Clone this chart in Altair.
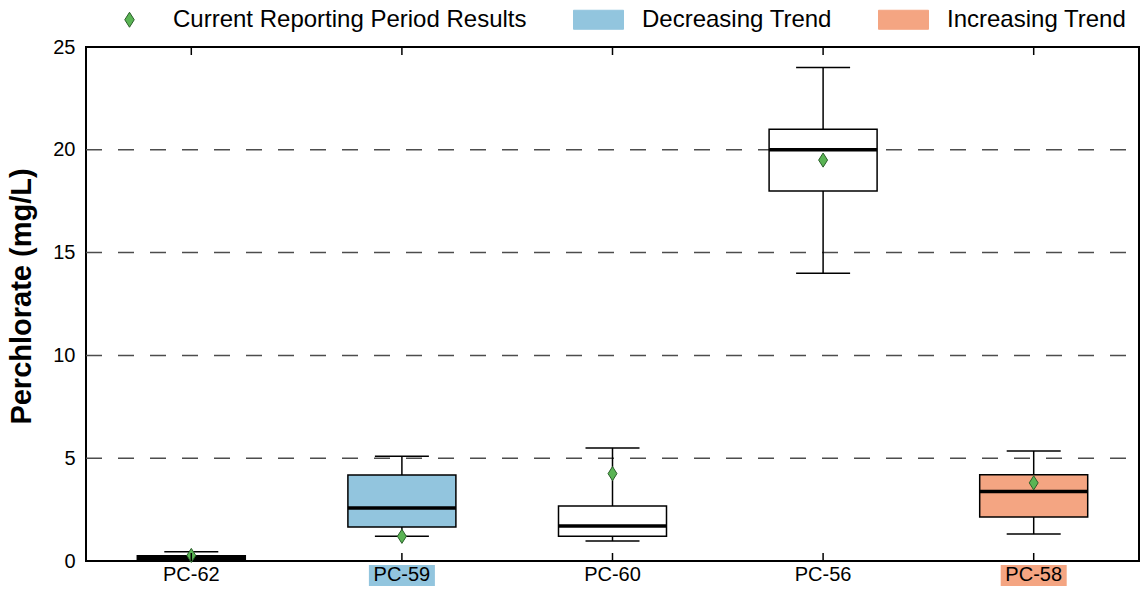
import altair as alt
import pandas as pd

categories = ["PC-62", "PC-59", "PC-60", "PC-56", "PC-58"]
low = [0.0, 1.2, 0.97, 14.0, 1.31]
q1 = [0.08, 1.65, 1.2, 18.0, 2.14]
median = [0.17, 2.58, 1.7, 20.0, 3.38]
q3 = [0.26, 4.18, 2.68, 21.0, 4.2]
high = [0.45, 5.1, 5.5, 24.0, 5.35]
current = [0.27, 1.2, 4.25, 19.5, 3.8]
trend = ["None", "Decreasing Trend", "None", "None", "Increasing Trend"]
grid_values = [5, 10, 15, 20]
y_ticks = [0, 5, 10, 15, 20, 25]
series = ["Current Reporting Period Results", "Decreasing Trend", "Increasing Trend"]

GREEN = "#5ab454"
DARKGREEN = "#2b5f2b"
BLUE = "#92c5de"
ORANGE = "#f4a582"
FONT = "Liberation Sans"
W, H = 1053, 514

DIAMOND = "M0,-0.3L0.19,0L0,0.3L-0.19,0Z"
RECT = "M-1,-0.38L1,-0.38L1,0.38L-1,0.38Z"

df = pd.DataFrame({
    "cat": categories, "low": low, "q1": q1, "median": median,
    "q3": q3, "high": high, "current": current, "trend": trend,
    "series": [series[0]] * len(categories),
})
grid_df = pd.DataFrame({"v": grid_values})
trend_df = df[df["trend"] != "None"]

x_enc = alt.X("cat:N", sort=categories,
              scale=alt.Scale(domain=categories, paddingInner=0, paddingOuter=0),
              axis=None)
y_scale = alt.Scale(domain=[0, 25], nice=False, zero=True)
trend_scale = alt.Scale(domain=["None", "Decreasing Trend", "Increasing Trend"],
                        range=["white", BLUE, ORANGE])

grid = alt.Chart(grid_df).mark_rule(color="#4d4d4d", strokeWidth=1.5, strokeDash=[16, 16]).encode(
    y=alt.Y("v:Q", scale=y_scale,
            axis=alt.Axis(values=y_ticks, labelFontSize=20, labelFont=FONT, labelColor="black",
                          ticks=False, domain=False, grid=False,
                          title="Perchlorate (mg/L)", titleFontSize=29, titleFont=FONT,
                          titleFontWeight="bold", titleColor="black", titlePadding=16,
                          titleY=249, labelPadding=11)),
    x=alt.value(0), x2=alt.value(W),
)

base = alt.Chart(df).encode(x=x_enc)

whisker = base.mark_rule(color="black", strokeWidth=1.5).encode(
    y=alt.Y("low:Q", scale=y_scale), y2="high:Q")
caps_low = base.mark_tick(color="black", size=54, thickness=1.5, opacity=1).encode(
    y=alt.Y("low:Q", scale=y_scale))
caps_high = base.mark_tick(color="black", size=54, thickness=1.5, opacity=1).encode(
    y=alt.Y("high:Q", scale=y_scale))
box = base.mark_bar(width=108, stroke="black", strokeWidth=1.5, opacity=1).encode(
    y=alt.Y("q1:Q", scale=y_scale), y2="q3:Q",
    fill=alt.Fill("trend:N", scale=trend_scale, legend=None))
med = base.mark_tick(color="black", size=108, thickness=3.5, opacity=1).encode(
    y=alt.Y("median:Q", scale=y_scale))

leg = dict(orient="none", legendX=18, legendY=-53, direction="horizontal", title=None,
           symbolSize=2500, labelFontSize=24, labelFont=FONT, labelColor="black",
           labelOffset=18, columnPadding=44, symbolStrokeWidth=1, labelLimit=600)
points = base.mark_point(filled=True, size=2209, strokeWidth=1, opacity=1).encode(
    y=alt.Y("current:Q", scale=y_scale),
    color=alt.Color("series:N", scale=alt.Scale(domain=series, range=[GREEN, BLUE, ORANGE]),
                    legend=alt.Legend(**leg)),
    shape=alt.Shape("series:N", scale=alt.Scale(domain=series, range=[DIAMOND, RECT, RECT]),
                    legend=alt.Legend(**leg)),
    stroke=alt.Stroke("series:N", scale=alt.Scale(domain=series, range=[DARKGREEN, BLUE, ORANGE]),
                      legend=alt.Legend(**leg)),
)

tick_bottom = base.mark_rule(color="black", strokeWidth=1.5).encode(
    y=alt.value(H), y2=alt.value(H - 8))
tick_top = base.mark_rule(color="black", strokeWidth=1.5).encode(
    y=alt.value(0), y2=alt.value(8))

label_bg = alt.Chart(trend_df).mark_bar(width=66, opacity=1).encode(
    x=x_enc, y=alt.value(H + 4), y2=alt.value(H + 26),
    fill=alt.Fill("trend:N", scale=trend_scale, legend=None))
labels = base.mark_text(fontSize=20, font=FONT, baseline="middle", color="black").encode(
    y=alt.value(H + 14), text="cat:N")

chart = alt.layer(
    grid, whisker, caps_low, caps_high, box, med, points, tick_bottom, tick_top, label_bg, labels
).properties(
    width=W, height=H,
    autosize=alt.AutoSizeParams(type="none"),
    padding={"left": 78, "top": 39, "right": 1, "bottom": 25},
).configure(background="white").configure_view(stroke="black", strokeWidth=2)

chart.save("out.html", embed_options={"renderer": "svg", "actions": False})
